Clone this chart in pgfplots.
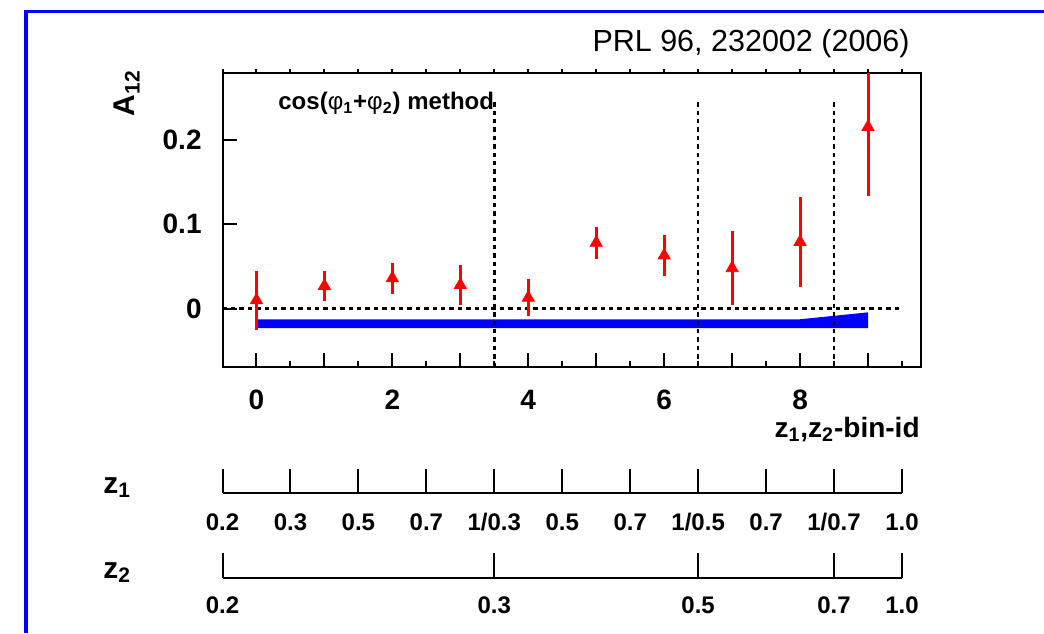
\documentclass[border=0pt]{standalone}
\usepackage{pgfplots}
\pgfplotsset{compat=1.18}
\usepackage{fontspec}
\setmainfont{Liberation Sans}
\newcommand{\fs}[1]{\fontsize{#1}{#1}\selectfont}
\pgfplotstableread{
x y e
0 0.010 0.035
1 0.027 0.018
2 0.036 0.018
3 0.028 0.024
4 0.013 0.022
5 0.078 0.019
6 0.063 0.024
7 0.048 0.044
8 0.079 0.053
9 0.215 0.081
}\datatable
\begin{document}
\begin{tikzpicture}
\useasboundingbox (0,0) rectangle (522pt,316.5pt);
\fill[white] (0,0) rectangle (522pt,316.5pt);
% blue frame
\draw[blue, line width=1.75pt] (13pt,0) -- (13pt,310.75pt) -- (522pt,310.75pt);
% main axis
\begin{axis}[
  scale only axis, width=349.25pt, height=147pt,
  at={(111.25pt,133pt)}, anchor=south west,
  xmin=-0.5, xmax=9.78, ymin=-0.069, ymax=0.279,
  axis line style={line width=1pt},
  xtick={0,...,9}, xticklabels={0,,2,,4,,6,,8,},
  minor xtick={-0.5,0.5,...,9.5},
  xtick pos=left, ytick pos=left,
  ytick={0,0.1,0.2}, yticklabels={0,0.1,0.2},
  tick align=inside,
  major tick length=7pt, minor tick length=3pt,
  every tick/.style={black, line width=1pt},
  xticklabel style={anchor=base, yshift=-21pt, inner sep=0pt, font=\bfseries\fs{14pt}},
  yticklabel style={anchor=east, xshift=-10.25pt, inner sep=0pt, font=\bfseries\fs{14pt}},
]
\addplot[fill=blue, draw=none] coordinates {(0,-0.023) (9,-0.023) (9,-0.0043) (8,-0.0125) (0,-0.0125)} -- cycle;
\addplot[black, line width=1.3pt, dash pattern=on 2.2pt off 2pt] coordinates {(-0.5,0) (9.5,0)};
\addplot[black, line width=1.3pt, dash pattern=on 2.2pt off 2pt] coordinates {(3.5,-0.069) (3.5,0.245)};
\addplot[black, line width=1.3pt, dash pattern=on 2.2pt off 2pt] coordinates {(6.5,-0.069) (6.5,0.245)};
\addplot[black, line width=1.3pt, dash pattern=on 2.2pt off 2pt] coordinates {(8.5,-0.069) (8.5,0.245)};
\addplot[red, only marks, mark=triangle*, mark size=3.5pt,
  error bars/.cd, y dir=both, y explicit, error mark=none,
  error bar style={line width=1.5pt, red, solid}]
  table[x=x, y=y, y error=e] {\datatable};
\end{axis}
% top ticks (outward)
\begin{axis}[
  scale only axis, width=349.25pt, height=147pt,
  at={(111.25pt,133pt)}, anchor=south west,
  xmin=-0.5, xmax=9.78, ymin=0, ymax=1,
  hide y axis, axis x line*=top, x axis line style={draw=none},
  xtick={-0.5,0,...,9.5}, xticklabels={},
  tick align=outside, major tick length=1.75pt,
  every tick/.style={black, line width=1pt},
]
\end{axis}
% z1 scale
\begin{axis}[
  scale only axis, width=339.75pt, height=10pt,
  at={(111.25pt,70pt)}, anchor=south west,
  xmin=-0.5, xmax=9.5, ymin=0, ymax=1,
  hide y axis, axis x line*=bottom, x axis line style={-, line width=1pt},
  xtick={-0.5,0.5,...,9.5},
  xticklabels={0.2,0.3,0.5,0.7,1/0.3,0.5,0.7,1/0.5,0.7,1/0.7,1.0},
  tick align=inside, major tick length=12pt,
  every tick/.style={black, line width=1pt},
  xticklabel style={anchor=base, yshift=-18.5pt, inner sep=0pt, font=\bfseries\fs{12pt}},
]
\end{axis}
% z2 scale
\begin{axis}[
  scale only axis, width=339.75pt, height=10pt,
  at={(111.25pt,27.5pt)}, anchor=south west,
  xmin=-0.5, xmax=9.5, ymin=0, ymax=1,
  hide y axis, axis x line*=bottom, x axis line style={-, line width=1pt},
  xtick={-0.5,3.5,6.5,8.5,9.5},
  xticklabels={0.2,0.3,0.5,0.7,1.0},
  tick align=inside, major tick length=12.5pt,
  every tick/.style={black, line width=1pt},
  xticklabel style={anchor=base, yshift=-17.5pt, inner sep=0pt, font=\bfseries\fs{12pt}},
]
\end{axis}
% texts
\node[anchor=base east, inner sep=0pt, font=\fs{15.25pt}] at (455pt,290.65pt) {PRL 96, 232002 (2006)};
\node[anchor=base west, inner sep=0pt, font=\bfseries\fs{12pt}] at (139pt,261.5pt) {cos({\mdseries φ}\textsubscript{1}+{\mdseries φ}\textsubscript{2}) method};
\node[rotate=90, inner sep=0pt, font=\bfseries\fs{15pt}] at (63.5pt,270pt) {A\textsubscript{12}};
\node[anchor=base east, inner sep=0pt, font=\bfseries\fs{14pt}] at (460pt,98pt) {z\textsubscript{1},z\textsubscript{2}-bin-id};
\node[anchor=base west, inner sep=0pt, font=\bfseries\fs{15pt}] at (51.5pt,70pt) {z\textsubscript{1}};
\node[anchor=base west, inner sep=0pt, font=\bfseries\fs{15pt}] at (51.5pt,27.5pt) {z\textsubscript{2}};
\end{tikzpicture}
\end{document}
